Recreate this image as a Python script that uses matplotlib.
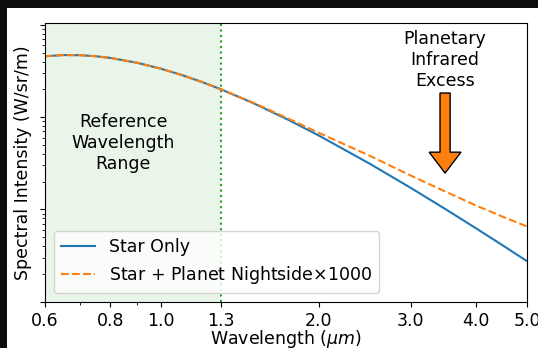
import matplotlib
matplotlib.use("Agg")
import matplotlib.pyplot as plt
from matplotlib.patches import FancyArrow, Rectangle
from matplotlib.ticker import NullFormatter

# wavelength grid (micron) and spectral intensity (arbitrary units)
wavelength = [0.6, 0.65, 0.7, 0.75, 0.8, 0.9, 1.0, 1.1, 1.2, 1.3,
              1.5, 1.75, 2.0, 2.5, 3.0, 3.5, 4.0, 4.5, 5.0]
star_only = [4.578, 4.714, 4.701, 4.580, 4.389, 3.890, 3.350, 2.841, 2.393, 2.009,
             1.419, 0.9356, 0.6332, 0.3140, 0.1707, 0.09995, 0.06208, 0.04046, 0.02743]
star_planet = [4.578, 4.714, 4.701, 4.580, 4.389, 3.890, 3.350, 2.841, 2.393, 2.009,
               1.433, 0.9637, 0.6775, 0.3831, 0.2322, 0.1549, 0.1099, 0.08294, 0.06528]

ref_range = (0.6, 1.3)
xtick_vals = [0.6, 0.8, 1.0, 1.3, 2.0, 3.0, 4.0, 5.0]
xtick_labels = ["0.6", "0.8", "1.0", "1.3", "2.0", "3.0", "4.0", "5.0"]

plt.rcParams["font.size"] = 12.5

fig = plt.figure(figsize=(5.38, 3.48), dpi=100, facecolor="white")
# dark frame along the top and left edges
fig.patches.append(Rectangle((0, 340 / 348), 1, 8 / 348, transform=fig.transFigure,
                             facecolor="#0d0d0d", edgecolor="none"))
fig.patches.append(Rectangle((0, 0), 7 / 538, 1, transform=fig.transFigure,
                             facecolor="#0d0d0d", edgecolor="none"))
ax = fig.add_axes([0.0836, 0.1322, 0.896, 0.8017])

ax.axvspan(ref_range[0], ref_range[1], color="tab:green", alpha=0.1, lw=0)
ax.axvline(ref_range[1], color="tab:green", ls=":", lw=1.5)

ax.plot(wavelength, star_only, color="tab:blue", lw=1.5, label="Star Only")
ax.plot(wavelength, star_planet, color="tab:orange", ls="--", lw=1.5,
        label=r"Star + Planet Nightside$\times$1000")

ax.set_xscale("log")
ax.set_yscale("log")
ax.set_xlim(0.6, 5.0)
ax.set_ylim(0.0099, 10.5)
ax.set_xticks(xtick_vals)
ax.set_xticklabels(xtick_labels)
ax.xaxis.set_minor_formatter(NullFormatter())
ax.yaxis.set_major_formatter(NullFormatter())
ax.yaxis.set_minor_formatter(NullFormatter())

ax.set_xlabel(r"Wavelength ($\mu m$)", labelpad=-1.5)
ax.set_ylabel("Spectral Intensity (W/sr/m)", labelpad=2)

ax.text(0.162, 0.57, "Reference\nWavelength\nRange", transform=ax.transAxes,
        ha="center", va="center")
ax.text(0.83, 0.867, "Planetary\nInfrared\nExcess", transform=ax.transAxes,
        ha="center", va="center")
ax.add_patch(FancyArrow(0.83, 0.749, 0, -0.287, width=0.021, head_width=0.066,
                        head_length=0.075, length_includes_head=True,
                        transform=ax.transAxes, facecolor="tab:orange",
                        edgecolor="black", lw=1))

ax.legend(loc="lower left")

fig.savefig("out.png", dpi=100)
